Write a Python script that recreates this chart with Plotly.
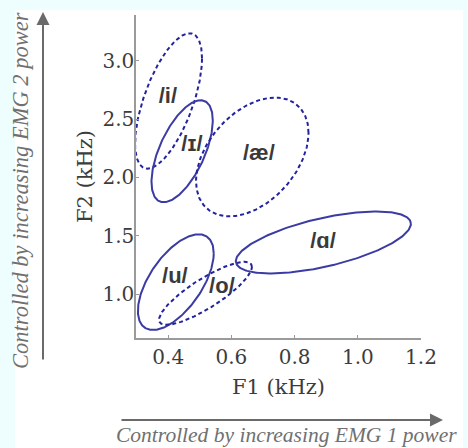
import numpy as np
import plotly.graph_objects as go

# ---- data ----
vowels = ["/i/", "/ɪ/", "/æ/", "/u/", "/o/", "/ɑ/"]
center_f1 = [0.401, 0.444, 0.666, 0.424, 0.518, 0.891]   # kHz
center_f2 = [2.655, 2.224, 2.175, 1.102, 1.006, 1.442]   # kHz
half_width_f1 = [0.106, 0.097, 0.178, 0.120, 0.147, 0.277]
half_height_f2 = [0.580, 0.437, 0.509, 0.410, 0.270, 0.266]
tilt_phase_deg = [51, 53, 66, 53, 33, 53]
dotted = [True, False, True, False, True, False]
label_f1 = [0.399, 0.475, 0.687, 0.421, 0.570, 0.890]
label_f2 = [2.689, 2.271, 2.195, 1.145, 1.060, 1.444]

x_ticks = [0.4, 0.6, 0.8, 1.0, 1.2]
y_ticks = [1.0, 1.5, 2.0, 2.5, 3.0]

SOLID_C = "#3b3ba3"
DOT_C = "#23239e"
GRAY = "#6a6a6a"
TXT = "#3c3c3c"

fig = go.Figure()
t = np.linspace(0, 2 * np.pi, 240)
for i, v in enumerate(vowels):
    ph = np.deg2rad(tilt_phase_deg[i])
    xs = center_f1[i] + half_width_f1[i] * np.cos(t)
    ys = center_f2[i] + half_height_f2[i] * np.cos(t - ph)
    fig.add_trace(go.Scatter(
        x=xs, y=ys, mode="lines", name=v, showlegend=False, hoverinfo="skip",
        line=dict(color=DOT_C if dotted[i] else SOLID_C, width=2,
                  dash="4px,3px" if dotted[i] else "solid"),
    ))

fig.add_trace(go.Scatter(
    x=label_f1, y=label_f2, mode="text", text=["<b>%s</b>" % v for v in vowels],
    showlegend=False, hoverinfo="skip",
    textfont=dict(family="Liberation Sans, DejaVu Sans, Arial", size=22,
                  color="#3a3a3a"),
    textposition="middle center",
))

W, H = 468, 448
L, R, T, B = 136, 47, 15, 110

fig.update_layout(
    template="none",
    width=W, height=H,
    margin=dict(l=L, r=R, t=T, b=B, pad=0, autoexpand=False),
    paper_bgcolor="#eefefe",
    plot_bgcolor="white",
    font=dict(family="DejaVu Serif, Liberation Serif, serif", color=TXT),
    shapes=[dict(type="rect", xref="paper", yref="paper", layer="below",
                 x0=(15 - L) / 285, x1=(463 - L) / 285,
                 y0=(338 - 460) / 323, y1=(338 - 10) / 323,
                 fillcolor="white", line=dict(width=0))],
    xaxis=dict(range=[0.298, 1.2], tickvals=x_ticks, tickformat=".1f",
               automargin=False,
               showgrid=False, zeroline=False, showline=True,
               linecolor="#9a9a9a", linewidth=1.5,
               ticks="inside", ticklen=3, tickcolor="#9a9a9a",
               tickfont=dict(size=20, color=TXT),
               title=dict(text="F1 (kHz)", font=dict(size=21, color=TXT), standoff=12)),
    yaxis=dict(range=[0.623, 3.392], tickvals=y_ticks, tickformat=".1f",
               automargin=False,
               showgrid=False, zeroline=False, showline=True,
               linecolor="#9a9a9a", linewidth=1.5,
               ticks="inside", ticklen=3, tickcolor="#9a9a9a",
               ticklabelstandoff=-4,
               tickfont=dict(size=20, color=TXT),
               title=dict(text="F2 (kHz)", font=dict(size=21, color=TXT), standoff=4)),
    annotations=[
        dict(xref="paper", yref="paper", x=(443 - L) / 285, y=(338 - 420) / 323,
             ax=120 - 443, ay=0, text="", showarrow=True, arrowhead=2,
             arrowsize=1.3, arrowwidth=2, arrowcolor=GRAY, standoff=0),
        dict(xref="paper", yref="paper", x=(43 - L) / 285, y=(338 - 12) / 323,
             ax=0, ay=361 - 12, text="", showarrow=True, arrowhead=2,
             arrowsize=1.3, arrowwidth=2, arrowcolor=GRAY, standoff=0),
        dict(xref="paper", yref="paper", x=(286 - L) / 285, y=(338 - 435) / 323,
             text="<i>Controlled by increasing EMG 1 power</i>", showarrow=False,
             font=dict(family="Liberation Serif, serif", size=21.5, color="#707070"),
             xanchor="center", yanchor="middle", borderpad=0),
        dict(xref="paper", yref="paper", x=(20 - L) / 285, y=(338 - 191) / 323,
             text="<i>Controlled by increasing EMG 2 power</i>", showarrow=False,
             textangle=-90,
             font=dict(family="Liberation Serif, serif", size=22.5, color="#707070"),
             xanchor="center", yanchor="middle"),
    ],
)

fig.write_html("out.html",
               config={"displayModeBar": False},
               post_script="document.body.style.margin='0px';"
                           "document.body.style.overflow='hidden';")
